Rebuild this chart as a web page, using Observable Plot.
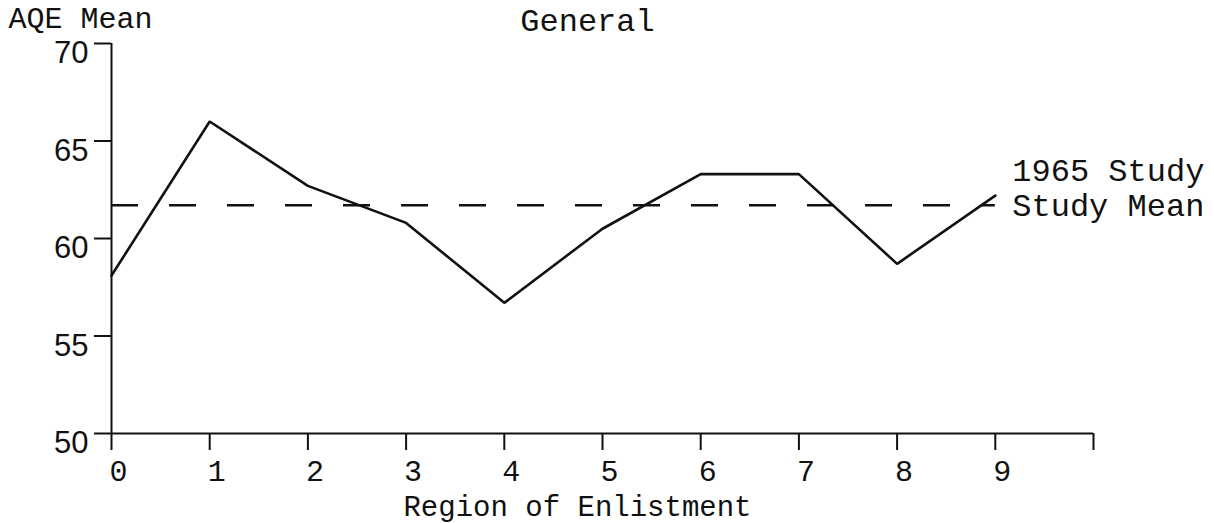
<!DOCTYPE html>
<html><head><meta charset="utf-8">
<script src="https://cdn.jsdelivr.net/npm/d3@7"></script>
<script src="https://cdn.jsdelivr.net/npm/@observablehq/plot@0.6"></script>
<style>body{margin:0;background:#fff}</style>
</head><body><div id="chart"></div>
<script>
// ---- data ----
const regions = [0, 1, 2, 3, 4, 5, 6, 7, 8, 9];
const aqeMeans = [58.1, 66.0, 62.7, 60.8, 56.7, 60.5, 63.3, 63.3, 58.7, 62.2];
const studyMean = 61.7;
const xTicks = [0, 1, 2, 3, 4, 5, 6, 7, 8, 9, 10];
const xTickLabels = ["0", "1", "2", "3", "4", "5", "6", "7", "8", "9"];
const yTicks = [50, 55, 60, 65, 70];
const titleText = "General";
const yLabelText = "AQE Mean";
const xLabelText = "Region of Enlistment";
const meanLabelLines = ["1965 Study", "Study Mean"];

const rows = regions.map((r, i) => ({region: r, mean: aqeMeans[i]}));
const ink = "#111";
const mono = "'Liberation Mono', 'Courier New', monospace";
const sans = "'Liberation Sans', Arial, sans-serif";

const chart = Plot.plot({
  width: 1214,
  height: 523,
  marginLeft: 111,
  marginRight: 121,
  marginTop: 43,
  marginBottom: 90,
  style: {background: "#fff", color: ink, overflow: "visible"},
  x: {domain: [0, 10], axis: null},
  y: {domain: [50, 70], axis: null},
  marks: [
    // axes lines and ticks
    Plot.ruleX([0], {stroke: ink, strokeWidth: 2}),
    Plot.ruleY([50], {stroke: ink, strokeWidth: 2}),
    Plot.axisY({ticks: yTicks, tickSize: 17, tickFormat: () => "", stroke: ink, strokeWidth: 2, label: null}),
    Plot.axisX({ticks: xTicks, tickSize: 17, tickFormat: () => "", stroke: ink, strokeWidth: 2, label: null}),
    // tick labels
    Plot.text(yTicks, {x: 0, y: (d) => d, text: (d) => String(d), textAnchor: "end", dx: -23, dy: 10,
      fontSize: 31, fontFamily: sans, fill: ink}),
    Plot.text(xTickLabels, {x: (d, i) => regions[i], y: 50, text: (d) => d, dx: 7, dy: 38,
      fontSize: 30, fontFamily: mono, fill: ink}),
    // study mean dashed line
    Plot.ruleY([studyMean], {x1: regions[0], x2: regions[regions.length - 1], stroke: ink,
      strokeWidth: 2.5, strokeDasharray: "27,31"}),
    // data line
    Plot.line(rows, {x: "region", y: "mean", stroke: ink, strokeWidth: 2.6, strokeLinejoin: "miter"}),
    // labels
    Plot.text([meanLabelLines.join("\n")], {x: regions[regions.length - 1], y: studyMean,
      textAnchor: "start", lineAnchor: "middle", lineHeight: 1.1, dx: 17, dy: -18,
      fontSize: 32, fontFamily: mono, fill: ink}),
    Plot.text([titleText], {frameAnchor: "top", lineAnchor: "middle", dx: -15, dy: -23,
      fontSize: 32, fontFamily: mono, fill: ink}),
    Plot.text([yLabelText], {frameAnchor: "top-left", lineAnchor: "middle", textAnchor: "start", dx: -103, dy: -25,
      fontSize: 30, fontFamily: mono, fill: ink}),
    Plot.text([xLabelText], {frameAnchor: "bottom", lineAnchor: "middle", dx: -25, dy: 73,
      fontSize: 29, fontFamily: mono, fill: ink})
  ]
});
document.getElementById("chart").appendChild(chart);
</script>
</body></html>
